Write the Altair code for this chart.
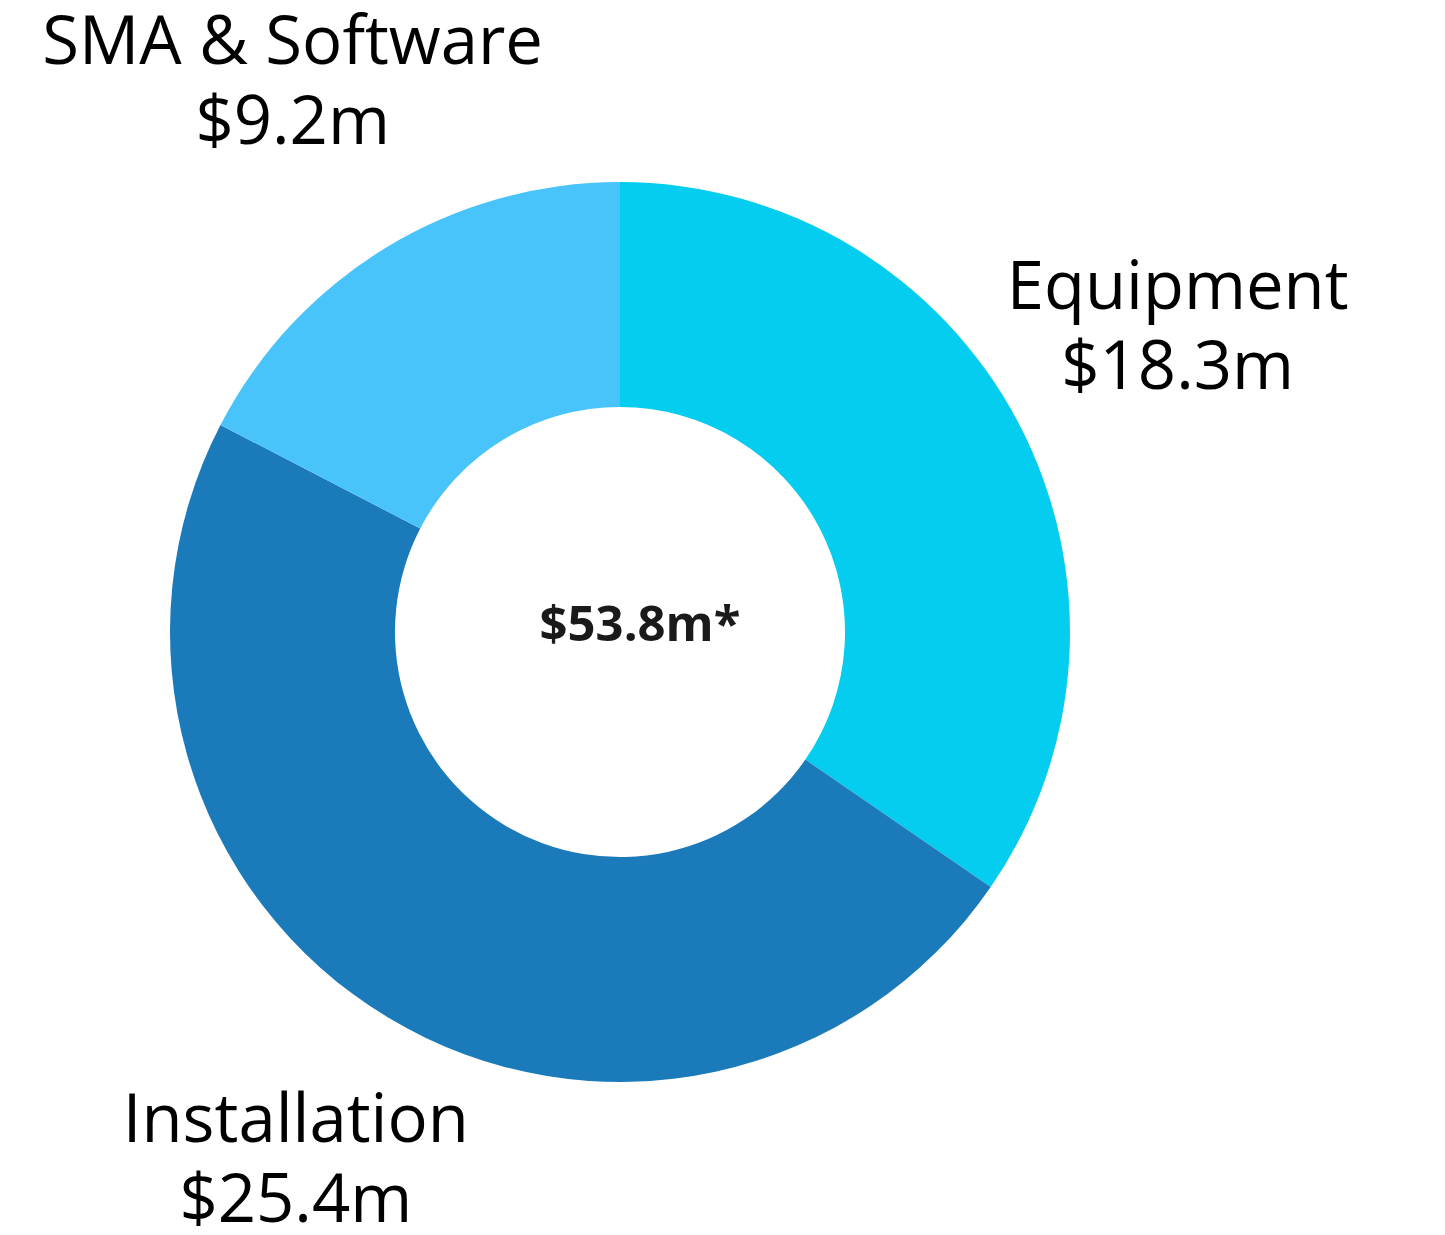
import altair as alt
import pandas as pd

categories = ["Equipment", "Installation", "SMA & Software"]
values = [18.3, 25.4, 9.2]
value_labels = ["$18.3m", "$25.4m", "$9.2m"]
colors = ["#05CDEF", "#1B7BBA", "#48C4FB"]
center_label = "$53.8m*"

df = pd.DataFrame({
    "category": categories,
    "value": values,
    "idx": list(range(len(categories))),
    "value_label": value_labels,
})

CX, CY = 612, 624

base = alt.Chart(df)

arcs = base.mark_arc(outerRadius=450, innerRadius=225, stroke=None).encode(
    theta=alt.Theta("value:Q", stack=True),
    color=alt.Color("category:N", scale=alt.Scale(domain=categories, range=colors), legend=None),
    order=alt.Order("idx:Q"),
    x=alt.value(CX),
    y=alt.value(CY),
)


def label_layer(field, dy):
    return base.mark_text(
        font="Open Sans", fontSize=67,
        align="center", baseline="middle", color="#000000", dy=dy,
    ).encode(
        theta=alt.Theta("value:Q", stack=True),
        order=alt.Order("idx:Q"),
        radius=alt.value(630),
        text=f"{field}:N",
        x=alt.value(CX),
        y=alt.value(CY),
    )


names = label_layer("category", -50)
amounts = label_layer("value_label", 30)

center = alt.Chart(pd.DataFrame({"t": [center_label]})).mark_text(
    font="Open Sans", fontSize=49, fontWeight="bold", color="#1a1a1a",
    align="center", baseline="middle", dx=20,
).encode(text="t:N", x=alt.value(CX), y=alt.value(CY - 6))

chart = alt.layer(arcs, names, amounts, center).properties(
    width=1429, height=1219, padding=0, autosize=alt.AutoSizeParams(type="none")
).configure_view(stroke=None)

chart.save("out.html", embed_options={"renderer": "svg", "actions": False})
